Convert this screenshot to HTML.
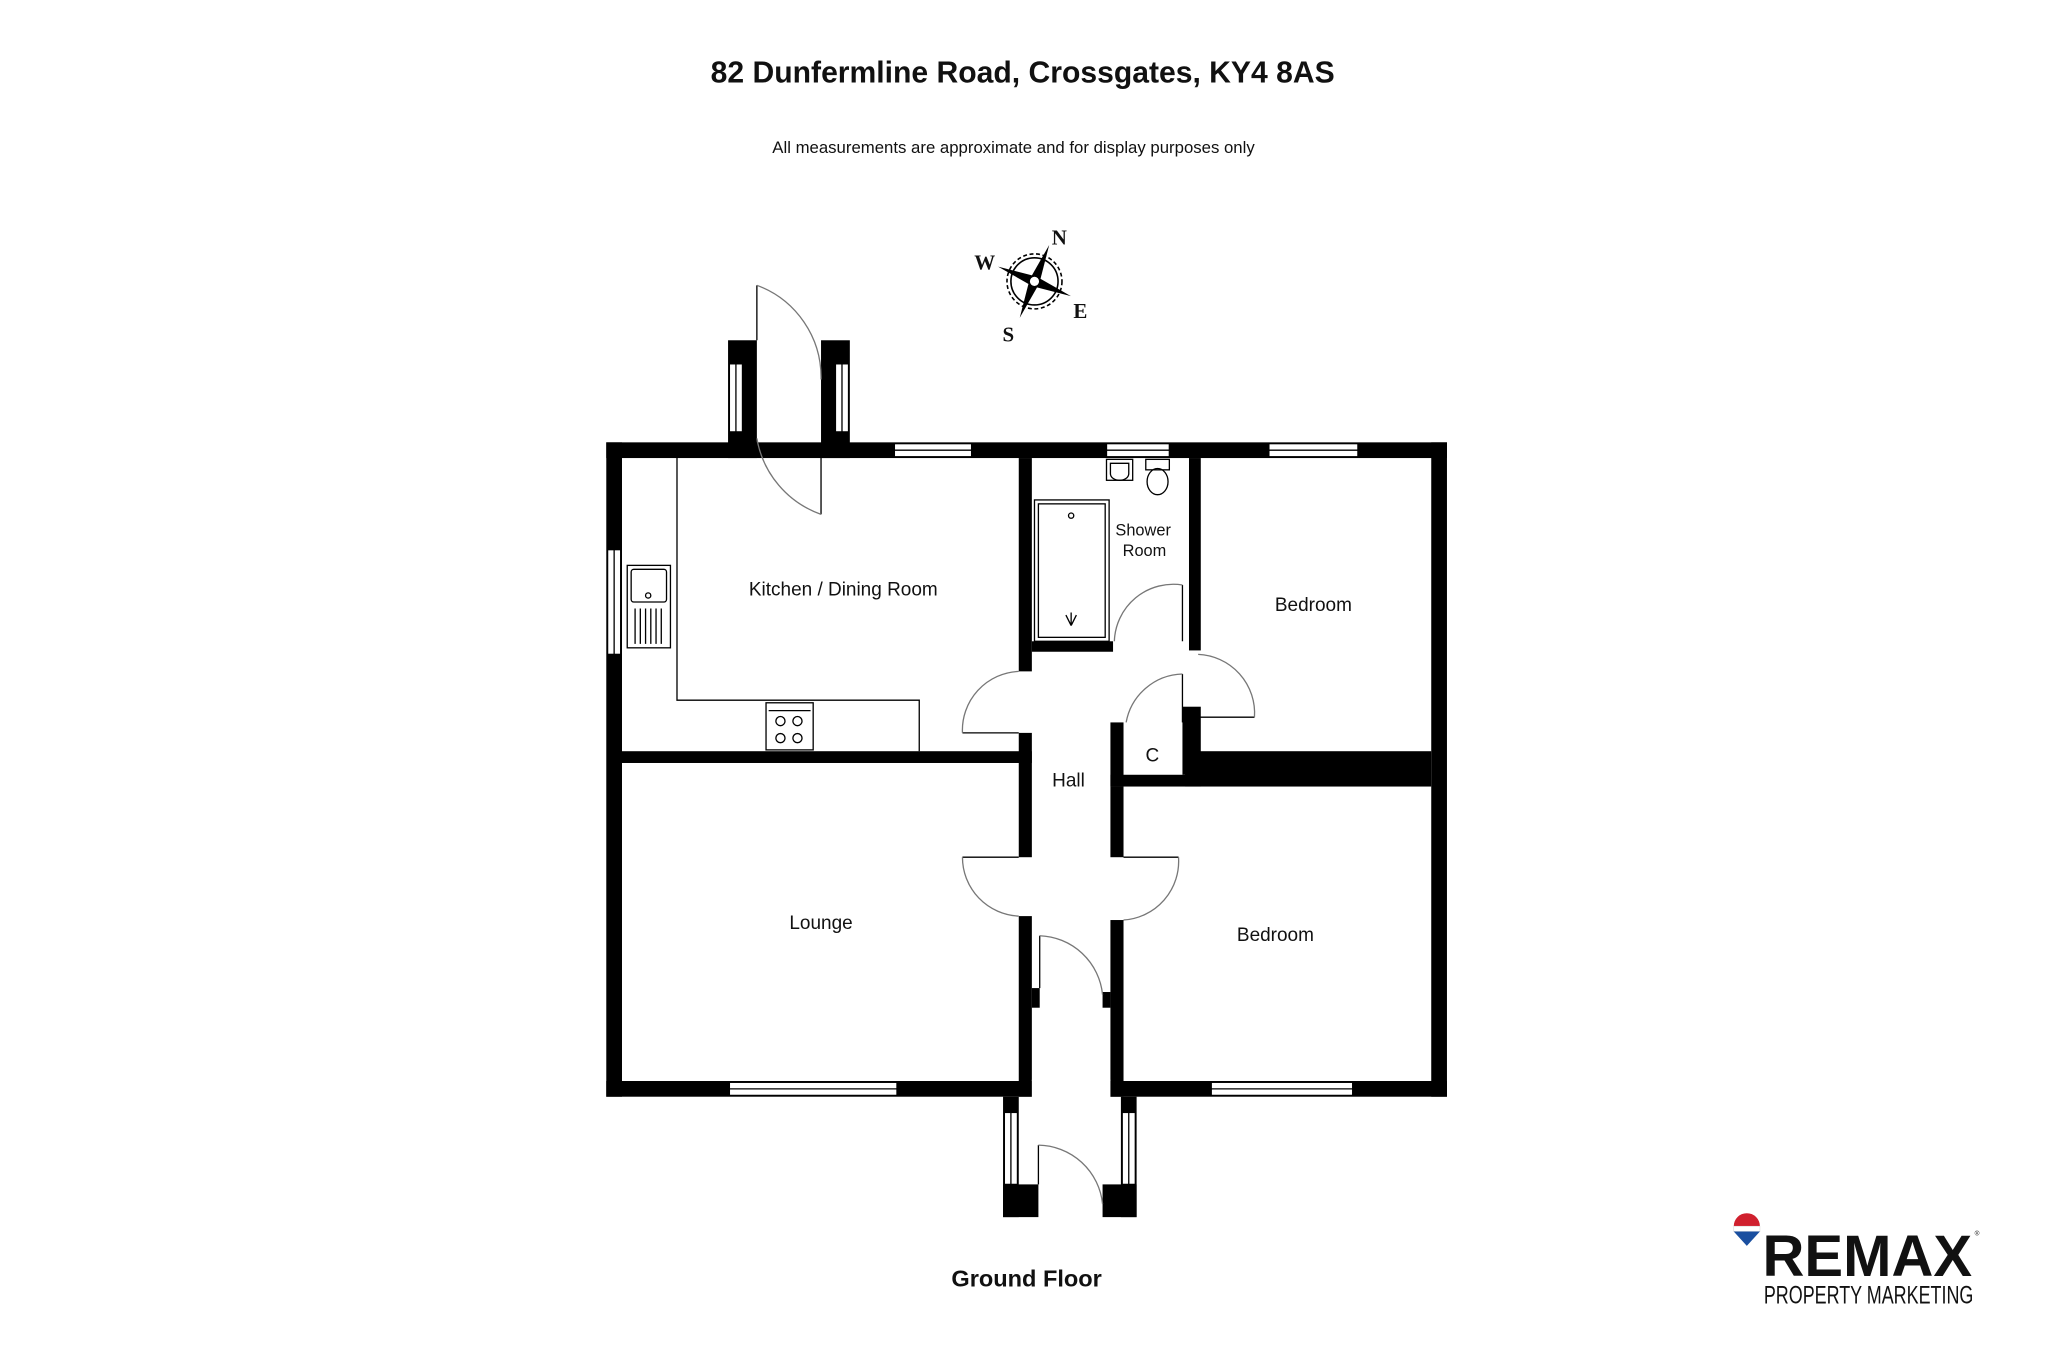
<!DOCTYPE html>
<html><head><meta charset="utf-8"><style>
html,body{margin:0;padding:0;background:#fff}
svg{display:block}
text{font-family:"Liberation Sans",Arial,sans-serif;fill:#111}
</style></head><body>
<svg width="2048" height="1365" viewBox="0 0 1564 1043" preserveAspectRatio="none" xmlns="http://www.w3.org/2000/svg">
<rect width="1564" height="1043" fill="#fff"/>
<text x="781" y="63" font-size="23" font-weight="bold" text-anchor="middle">82 Dunfermline Road, Crossgates, KY4 8AS</text>
<text x="774" y="117" font-size="12.8" text-anchor="middle">All measurements are approximate and for display purposes only</text>

<g transform="translate(790,215)">
<circle r="21" fill="none" stroke="#000" stroke-width="1.2" stroke-dasharray="3,2"/>
<circle r="18" fill="none" stroke="#000" stroke-width="1.2"/>
<g transform="rotate(22)">
<path d="M0,-30 L4,0 L0,4 L-4,0Z" fill="#000"/>
<path d="M0,30 L4,0 L0,-4 L-4,0Z" fill="#000"/>
<path d="M-30,0 L0,-4 L4,0 L0,4Z" fill="#000"/>
<path d="M30,0 L0,-4 L-4,0 L0,4Z" fill="#000"/>
</g>
<circle r="4" fill="#fff" stroke="#000"/>
</g>
<text x="809" y="187" font-size="16" font-weight="bold" text-anchor="middle" style="font-family:'Liberation Serif',serif">N</text>
<text x="752" y="206" font-size="16" font-weight="bold" text-anchor="middle" style="font-family:'Liberation Serif',serif">W</text>
<text x="825" y="243" font-size="16" font-weight="bold" text-anchor="middle" style="font-family:'Liberation Serif',serif">E</text>
<text x="770" y="261" font-size="16" font-weight="bold" text-anchor="middle" style="font-family:'Liberation Serif',serif">S</text>

<g fill="#000">
<rect x="463" y="338" width="642" height="12"/>
<rect x="463" y="826" width="642" height="12"/>
<rect x="463" y="338" width="12" height="500"/>
<rect x="1093" y="338" width="12" height="500"/>
<rect x="556" y="260" width="22" height="90"/>
<rect x="627" y="260" width="22" height="90"/>
<rect x="778" y="350" width="10" height="163"/>
<rect x="778" y="560" width="10" height="23"/>
<rect x="475" y="574" width="313" height="9"/>
<rect x="908" y="350" width="9" height="147"/>
<rect x="788" y="490" width="62" height="8"/>
<rect x="903" y="540" width="14" height="52"/>
<rect x="848" y="552" width="10" height="49"/>
<rect x="848" y="592" width="69" height="9"/>
<rect x="905" y="574" width="188" height="27"/>
<rect x="848" y="601" width="10" height="54"/>
<rect x="848" y="703" width="10" height="135"/>
<rect x="778" y="583" width="10" height="72"/>
<rect x="778" y="700" width="10" height="138"/>
<rect x="788" y="755" width="6" height="15"/>
<rect x="842" y="758" width="6" height="12"/>
<rect x="766" y="838" width="12" height="92"/>
<rect x="766" y="905" width="27" height="25"/>
<rect x="856" y="838" width="12" height="92"/>
<rect x="842" y="905" width="26" height="25"/>
</g>
<rect x="788" y="825" width="60" height="14" fill="#fff"/>

<g fill="#fff" stroke="#000" stroke-width="1">
<rect x="683" y="339" width="59" height="10"/><line x1="683" y1="344" x2="742" y2="344"/>
<rect x="845" y="339" width="48" height="10"/><line x1="845" y1="344" x2="893" y2="344"/>
<rect x="969" y="339" width="68" height="10"/><line x1="969" y1="344" x2="1037" y2="344"/>
<rect x="464" y="420" width="10" height="80"/><line x1="469" y1="420" x2="469" y2="500"/>
<rect x="557" y="278" width="10" height="52"/><line x1="562" y1="278" x2="562" y2="330"/>
<rect x="638" y="278" width="10" height="52"/><line x1="643" y1="278" x2="643" y2="330"/>
<rect x="557" y="827" width="128" height="10"/><line x1="557" y1="832" x2="685" y2="832"/>
<rect x="925" y="827" width="108" height="10"/><line x1="925" y1="832" x2="1033" y2="832"/>
<rect x="767" y="850" width="10" height="55"/><line x1="772" y1="850" x2="772" y2="905"/>
<rect x="857" y="850" width="10" height="55"/><line x1="862" y1="850" x2="862" y2="905"/>
</g>

<g fill="none" stroke="#000" stroke-width="1">
<line x1="578" y1="218" x2="578" y2="260"/>
<path d="M578,218 A75,75 0 0 1 627,290" stroke="#777"/>
<line x1="627" y1="340" x2="627" y2="393"/>
<path d="M627,393 A75,75 0 0 1 578,335" stroke="#777"/>
<line x1="903" y1="447" x2="903" y2="490"/>
<path d="M903,447 A45,45 0 0 0 851,490" stroke="#777"/>
<line x1="735" y1="560" x2="778" y2="560"/>
<path d="M735,560 A45,45 0 0 1 778,513" stroke="#777"/>
<line x1="903" y1="515" x2="903" y2="552"/>
<path d="M903,515 A45,45 0 0 0 860,552" stroke="#777"/>
<line x1="915" y1="548" x2="958" y2="548"/>
<path d="M958,548 A45,45 0 0 0 915,500" stroke="#777"/>
<line x1="735" y1="655" x2="778" y2="655"/>
<path d="M735,655 A45,45 0 0 0 778,700" stroke="#777"/>
<line x1="858" y1="655" x2="900" y2="655"/>
<path d="M900,655 A45,45 0 0 1 858,703" stroke="#777"/>
<line x1="794" y1="715" x2="794" y2="755"/>
<path d="M794,715 A50,50 0 0 1 842,760" stroke="#777"/>
<line x1="793" y1="875" x2="793" y2="905"/>
<path d="M793,875 A50,50 0 0 1 842,920" stroke="#777"/>
<path d="M517,350 V535 H702 V574"/>
<rect x="479" y="432" width="33" height="63"/>
<rect x="482" y="435" width="27" height="25" rx="2"/>
<circle cx="495" cy="455" r="2"/>
<path d="M485,465 V492 M489,465 V492 M493,465 V492 M497,465 V492 M501,465 V492 M505,465 V492"/>
<rect x="585" y="537" width="36" height="36"/>
<line x1="587" y1="543" x2="619" y2="543"/>
<circle cx="596" cy="551" r="3.5"/><circle cx="609" cy="551" r="3.5"/>
<circle cx="596" cy="564" r="3.5"/><circle cx="609" cy="564" r="3.5"/>
<rect x="790" y="382" width="57" height="108"/>
<rect x="793" y="385" width="51" height="102"/>
<circle cx="818" cy="394" r="2"/>
<path d="M818,478 L814,470 M818,478 L822,470 M818,478 V468"/>
<rect x="845" y="351" width="20" height="16"/>
<path d="M848,354 H862 V362 A7,5 0 0 1 848,362Z"/>
<rect x="875" y="351" width="18" height="8"/>
<ellipse cx="884" cy="368" rx="8" ry="10"/>
</g>

<g font-size="14.5" text-anchor="middle">
<text x="644" y="455">Kitchen / Dining Room</text>
<text x="873" y="409" font-size="12.5">Shower</text>
<text x="874" y="425" font-size="12.5">Room</text>
<text x="1003" y="467">Bedroom</text>
<text x="880" y="582">C</text>
<text x="816" y="601">Hall</text>
<text x="627" y="710">Lounge</text>
<text x="974" y="719">Bedroom</text>
</g>
<text x="784" y="983" font-size="18" font-weight="bold" text-anchor="middle">Ground Floor</text>

<g>
<path d="M1324,937 A10,10 0 0 1 1344,937 Z" fill="#d0202e"/>
<rect x="1324" y="937" width="20" height="4" fill="#fff" stroke="#ddd" stroke-width="0.5"/>
<path d="M1324,941 H1344 L1334,952 Z" fill="#1a4fa0"/>
<text x="1346" y="975" font-size="45" font-weight="bold" textLength="160" lengthAdjust="spacingAndGlyphs">REMAX</text>
<text x="1508" y="944" font-size="5">®</text>
<text x="1347" y="996" font-size="19" textLength="160" lengthAdjust="spacingAndGlyphs">PROPERTY MARKETING</text>
</g>
</svg>
</body></html>
